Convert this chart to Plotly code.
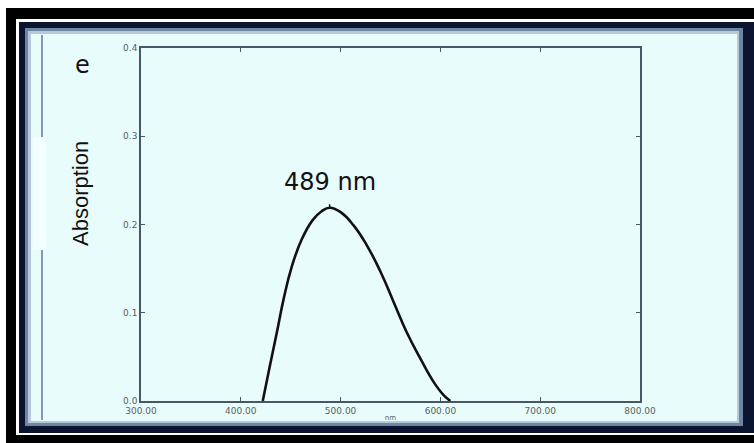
import plotly.graph_objects as go
import numpy as np

# ---- data ----
wavelength = [422, 429, 436, 443, 451, 461, 472, 481, 489, 500, 513, 526, 540, 553, 566, 580, 593, 603, 610]
absorption = [0.0, 0.039, 0.077, 0.116, 0.152, 0.183, 0.205, 0.215, 0.219, 0.214, 0.199, 0.177,
              0.1465, 0.1125, 0.0785, 0.048, 0.022, 0.007, 0.0]
x_ticks = [300, 400, 500, 600, 700, 800]
x_tick_labels = ["300.00", "400.00", "500.00", "600.00", "700.00", "800.00"]
y_ticks = [0.0, 0.1, 0.2, 0.3, 0.4]
y_tick_labels = ["0.0", "0.1", "0.2", "0.3", "0.4"]
peak_label = "489 nm"
panel_label = "e"
y_title = "Absorption"
x_title = "nm"

W, H = 754, 443
ML, MR, MT, MB = 141, 114, 48, 42
PW, PH = W - ML - MR, H - MT - MB


def px(x):
    return (x - ML) / PW


def py(y):
    return (H - MB - y) / PH


def rect(x0, y0, x1, y1, color):
    return dict(type="rect", xref="paper", yref="paper", layer="below",
                x0=px(x0), x1=px(x1), y0=py(y1), y1=py(y0),
                fillcolor=color, line=dict(width=0))


def vline(x, y0, y1, color, w):
    return dict(type="line", xref="paper", yref="paper", layer="below",
                x0=px(x), x1=px(x), y0=py(y1), y1=py(y0),
                line=dict(color=color, width=w))


interior = "#e9fcfc"
shapes = [
    rect(6, 8, 754, 443, "#000000"),
    rect(16, 19, 754, 435, "#ffffff"),
    rect(19, 22, 754, 433, "#0b1530"),
    rect(25, 28, 743, 426, "#6f86a3"),
    rect(28, 31, 739, 423, "#b8c8da"),
    rect(31, 34, 737, 421, interior),
    rect(33, 137, 46, 250, "#f3fefe"),
    vline(42, 35, 137, "#8097b8", 2),
    vline(42, 250, 420, "#8097b8", 2),
]

fig = go.Figure()
fig.add_trace(go.Scatter(x=wavelength, y=absorption, mode="lines",
                         line=dict(color="#111111", width=2.6, shape="spline", smoothing=1.3),
                         showlegend=False, hoverinfo="skip"))

ipk = int(np.argmax(absorption))
axis_common = dict(showgrid=False, zeroline=False, showline=True, linecolor="#4a5566", linewidth=1.5,
                   mirror="ticks", ticks="inside", ticklen=4, tickwidth=1.2, tickcolor="#4a5566",
                   tickfont=dict(family="DejaVu Sans", size=9, color="#5c5c5c"))

fig.update_layout(
    width=W, height=H,
    margin=dict(l=ML, r=MR, t=MT, b=MB, pad=0),
    paper_bgcolor="#ffffff", plot_bgcolor=interior,
    shapes=shapes,
    xaxis=dict(range=[300, 800], tickvals=x_ticks, ticktext=x_tick_labels,
               title=dict(text=x_title, font=dict(family="DejaVu Sans", size=7, color="#5c5c5c"), standoff=1),
               **axis_common),
    yaxis=dict(range=[0, 0.4], tickvals=y_ticks, ticktext=y_tick_labels, **axis_common),
    annotations=[
        dict(x=wavelength[ipk], y=absorption[ipk], xref="x", yref="y", text="", showarrow=True,
             arrowhead=0, arrowwidth=1.5, arrowcolor="#111111", ax=0, ay=-5, standoff=0),
        dict(x=wavelength[ipk], y=0.248, xref="x", yref="y", text=peak_label, showarrow=False,
             font=dict(family="DejaVu Sans", size=24, color="#111111"), xanchor="center", yanchor="middle"),
        dict(x=px(82), y=py(65), xref="paper", yref="paper", text=panel_label, showarrow=False,
             font=dict(family="DejaVu Sans", size=24, color="#111111"), xanchor="center", yanchor="middle"),
        dict(x=px(80), y=py(194), xref="paper", yref="paper", text=y_title, showarrow=False, textangle=-90,
             font=dict(family="Liberation Sans, Arial, sans-serif", size=22, color="#111111"),
             xanchor="center", yanchor="middle"),
    ],
)

fig.write_html("out.html")
